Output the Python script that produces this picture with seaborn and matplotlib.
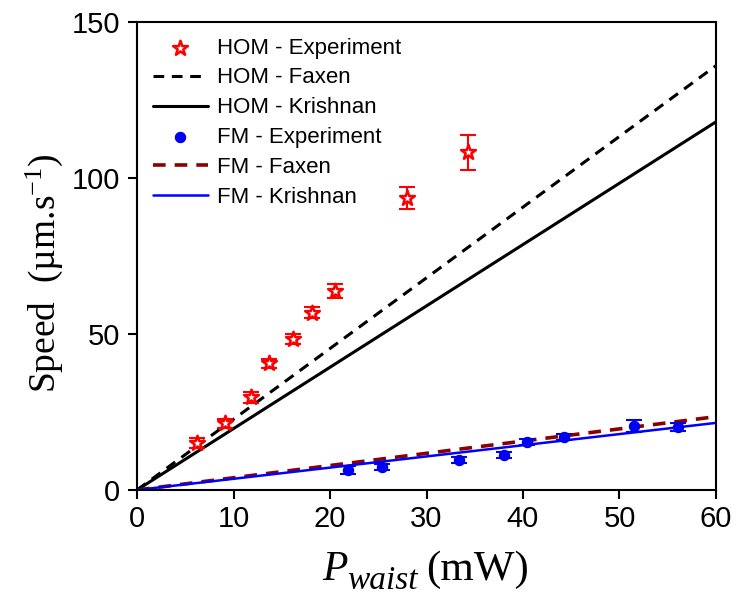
import numpy as np
import pandas as pd
import matplotlib
matplotlib.use('Agg')
import matplotlib.pyplot as plt
import matplotlib.transforms as mtransforms
import seaborn as sns

# ---- data ----
hom_power = [6.2, 9.1, 11.8, 13.7, 16.2, 18.1, 20.5, 28.0, 34.3]
hom_speed = [15.0, 21.4, 29.7, 40.6, 48.4, 56.8, 63.8, 93.5, 108.2]
hom_err = [1.5, 1.5, 1.8, 1.5, 1.5, 1.8, 2.2, 3.5, 5.5]
fm_power = [21.9, 25.4, 33.4, 38.0, 40.4, 44.3, 51.5, 56.1]
fm_speed = [6.4, 7.3, 9.6, 11.2, 15.4, 16.9, 20.6, 20.1]
fm_err = [1.2, 1.0, 1.0, 0.9, 1.0, 1.0, 1.9, 1.3]
model_power = [0, 60]
hom_faxen = [0, 136]
hom_krishnan = [0, 118]
fm_faxen = [0, 23.5]
fm_krishnan = [0, 21.5]
x_ticks = [0, 10, 20, 30, 40, 50, 60]
y_ticks = [0, 50, 100, 150]

sns.set_style('ticks')
plt.rcParams['font.family'] = ['Liberation Sans', 'DejaVu Sans']
plt.rcParams['mathtext.fontset'] = 'custom'
plt.rcParams['mathtext.rm'] = 'Liberation Serif'
plt.rcParams['mathtext.it'] = 'Liberation Serif:italic'
plt.rcParams['text.color'] = 'black'
plt.rcParams['axes.labelcolor'] = 'black'
plt.rcParams['xtick.color'] = 'black'
plt.rcParams['ytick.color'] = 'black'

fig = plt.figure(figsize=(7.37, 5.96), dpi=100)
ax = fig.add_axes([0.1859, 0.1779, 0.9715 - 0.1859, 0.9631 - 0.1779])

# error bars
ax.errorbar(hom_power, hom_speed, yerr=hom_err, fmt='none', ecolor='red',
            elinewidth=1.5, capsize=6, capthick=1.5, zorder=3)
ax.errorbar(fm_power, fm_speed, yerr=fm_err, fmt='none', ecolor='blue',
            elinewidth=1.5, capsize=6, capthick=1.5, zorder=3)

sns.scatterplot(x=hom_power, y=hom_speed, marker='*', s=125,
                facecolor='white', edgecolor='red', linewidth=1.8,
                ax=ax, zorder=4, label='HOM - Experiment')
sns.lineplot(x=model_power, y=hom_faxen, color='black', lw=2.2,
             ax=ax, label='HOM - Faxen')
ax.lines[-1].set_linestyle((0, (3.5, 2.5)))
sns.lineplot(x=model_power, y=hom_krishnan, color='black', lw=2.2,
             ax=ax, label='HOM - Krishnan')
sns.scatterplot(x=fm_power, y=fm_speed, marker='o', s=55, color='blue',
                edgecolor='#0000cc', linewidth=0.8, ax=ax, zorder=4,
                label='FM - Experiment')
sns.lineplot(x=model_power, y=fm_faxen, color='#8b0000', lw=2.6,
             ax=ax, label='FM - Faxen')
ax.lines[-1].set_linestyle((0, (3.5, 2.5)))
sns.lineplot(x=model_power, y=fm_krishnan, color='blue', lw=1.8,
             ax=ax, label='FM - Krishnan')

ax.set_xlim(0, 60)
ax.set_ylim(0, 150)
ax.set_xticks(x_ticks)
ax.set_yticks(y_ticks)
ax.tick_params(axis='both', labelsize=21, length=6.5, width=1.5,
               direction='out', colors='black')
ax.tick_params(axis='x', pad=4.5)
ax.tick_params(axis='y', pad=5.5)
for sp in ax.spines.values():
    sp.set_visible(True)
    sp.set_linewidth(1.5)
    sp.set_color('black')

ax.set_xlabel('')
ax.set_ylabel(r'Speed  (µm.s$^{-1}$)', fontsize=27, family='Liberation Serif')
ax.yaxis.set_label_coords(-0.124, 0.463)

leg = ax.legend(loc='upper left', bbox_to_anchor=(0.0, 1.0), frameon=False,
                fontsize=16, handlelength=2.5, handletextpad=0.4,
                labelspacing=0.4, borderaxespad=0.3)
for t in leg.get_texts():
    t.set_color('black')

# x label: italic P, lowered italic "waist", then (mW)  (pixel positions)
ident = mtransforms.IdentityTransform()
fig.text(322, 16, 'P', fontsize=30, style='italic', family='Liberation Serif',
         va='baseline', ha='left', transform=ident)
fig.text(347, 7, 'waist', fontsize=24, style='italic', family='Liberation Serif',
         va='baseline', ha='left', transform=ident)
fig.text(426, 16, '(mW)', fontsize=31, family='Liberation Serif',
         va='baseline', ha='left', transform=ident)

fig.savefig('out.png', dpi=100)
